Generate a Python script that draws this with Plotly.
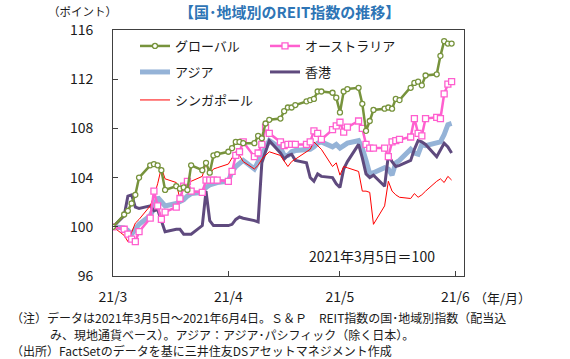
import pandas as pd
import plotly.graph_objects as go

# ---- data (weekdays 2021-03-05 .. 2021-06-04) ----
dates = [d.strftime("%Y-%m-%d") for d in pd.bdate_range("2021-03-05", "2021-06-04")]

global_vals = [100.0, 101.0, 101.3, 101.9, 102.6, 104.0,
               105.0, 105.1, 105.0, 104.6, 103.0,
               103.3, 103.1, 103.2, 103.0, 105.0,
               104.6, 105.2, 104.4, 105.8, 105.9,
               106.1, 106.4, 106.9, 106.9, 106.8,
               106.8, 107.4, 107.2, 108.4, 108.7,
               108.8, 109.4, 109.7, 109.7, 109.9,
               110.2, 110.3, 110.4, 111.0, 111.0,
               110.9, 110.5, 109.3, 111.0, 111.2,
               111.3, 110.0, 107.8, 108.6, 109.5,
               109.6, 109.7, 109.6, 110.4, 110.3,
               111.3, 111.7, 111.8, 111.5, 112.3,
               112.4, 113.9, 115.1, 114.9, 114.9]

australia_vals = [100.0, 99.8, 99.4, 99.0, 98.8, 99.6,
                  100.7, 102.9, 101.7, 100.6, 101.2,
                  101.6, 102.3, 103.3, 103.7, 102.9,
                  102.8, 103.8, 103.8, 103.8, 103.8,
                  103.7, 104.5, 105.8, 106.1, 106.9,
                  105.7, 106.0, 106.7, 108.1, 107.6,
                  106.9, 106.6, 106.7, 106.7, 106.7,
                  106.7, 106.9, 107.8, 107.6, 107.1,
                  107.9, 108.2, 108.5, 107.7, 108.1,
                  108.6, 108.0, 106.7, 106.4, 106.4,
                  106.4, 105.7, 106.9, 107.0, 107.1,
                  107.3, 108.8, 107.6, 107.4, 108.8,
                  108.9, 108.8, 110.8, 111.6, 111.8]

asia_vals = [100.0, 99.9, 99.7, 99.4, 99.8, 100.2,
             100.9, 101.5, 102.4, 102.0, 101.7,
             101.9, 102.0, 102.2, 102.5, 102.7,
             102.8, 103.2, 103.4, 103.5, 103.6,
             103.7, 104.5, 104.9, 105.2, 105.4,
             104.7, 105.3, 106.0, 106.6, 107.0,
             106.4, 105.8, 105.8, 106.1, 106.2,
             106.2, 106.3, 106.5, 106.8, 106.9,
             106.5, 106.7, 106.4, 106.6, 106.8,
             107.0, 106.4, 105.4, 104.3, 104.4,
             104.8, 104.7, 104.2, 105.2, 105.4,
             106.3, 106.0, 105.9, 106.7, 106.6,
             106.8, 106.9, 107.5, 108.3, 108.4]

hongkong_vals = [100.0, 100.9, 102.5, 102.6, 101.6, 101.5,
                 101.7, 101.3, 101.4, 100.5, 99.6,
                 99.8, 99.8, 99.4, 99.4, 99.4,
                 100.1, 102.9, 100.5, 100.1, 100.1,
                 100.1, 100.2, 100.6, 100.8, 100.7,
                 100.5, 100.4, 105.2, 106.2, 107.0,
                 106.0, 105.5, 105.8, 105.9, 105.4,
                 105.2, 104.0, 103.7, 104.3, 104.1,
                 104.0, 103.5, 103.2, 104.7, 105.3,
                 106.7, 105.6, 104.3, 104.0, 104.2,
                 103.3, 105.8, 105.3, 104.9, 105.0,
                 105.4, 106.3, 107.0, 106.9, 106.7,
                 105.7, 106.2, 106.8, 106.5, 106.0]

singapore_vals = [100.0, 99.3, 98.8, 99.5, 100.3, 100.6,
                  101.7, 102.5, 103.5, 104.8, 103.9,
                  103.6, 102.2, 103.1, 103.4, 103.7,
                  104.1, 105.2, 104.3, 104.7, 104.8,
                  105.1, 105.6, 106.1, 105.8, 105.3,
                  104.7, 105.0, 105.5, 105.8, 106.1,
                  105.8, 105.3, 104.9, 105.3, 105.5,
                  106.1, 106.3, 106.9, 106.6, 106.3,
                  104.9, 105.2, 104.2, 104.9, 104.8,
                  104.5, 102.9, 102.9, 102.8, 100.2,
                  101.7, 103.7, 102.9, 102.6, 102.4,
                  102.3, 102.7, 102.4, 102.6, 102.9,
                  103.7, 103.9, 103.6, 104.1, 103.8]

series_names = ["グローバル", "オーストラリア", "アジア", "香港", "シンガポール"]
tick_dates = ["2021-03-05", "2021-04-05", "2021-05-05", "2021-06-05"]
tick_labels = ["21/3", "21/4", "21/5", "21/6"]

FONT = "Noto Sans CJK JP, Noto Sans, sans-serif"
TXT = "#1a1a1a"
AX = "#404040"

fig = go.Figure()

# drawing order: asia, hong kong, singapore, australia, global
fig.add_trace(go.Scatter(x=dates, y=asia_vals, name=series_names[2], mode="lines",
                         line=dict(color="#95B3D7", width=5), legend="legend3"))
fig.add_trace(go.Scatter(x=dates, y=hongkong_vals, name=series_names[3], mode="lines",
                         line=dict(color="#5F4A7E", width=3), legend="legend4"))
fig.add_trace(go.Scatter(x=dates, y=singapore_vals, name=series_names[4], mode="lines",
                         line=dict(color="#FF0000", width=1), legend="legend5"))
fig.add_trace(go.Scatter(x=dates, y=australia_vals, name=series_names[1], mode="lines+markers",
                         line=dict(color="#FF5FCF", width=2.5),
                         marker=dict(symbol="square", size=6, color="white",
                                     line=dict(color="#FF5FCF", width=1.3)),
                         legend="legend2"))
fig.add_trace(go.Scatter(x=dates, y=global_vals, name=series_names[0], mode="lines+markers",
                         line=dict(color="#77933C", width=2.5),
                         marker=dict(symbol="circle", size=5, color="white",
                                     line=dict(color="#77933C", width=1.3)),
                         legend="legend"))

L, R, T, B = 113, 106, 30, 83
W, H = 570, 359
pw, ph = W - L - R, H - T - B


def px(x):
    return (x - L) / pw


def py(y):
    return 1 - (y - T) / ph


def leg(x, y):
    return dict(x=px(x), y=py(y), xanchor="left", yanchor="middle",
                bgcolor="rgba(0,0,0,0)", borderwidth=0,
                font=dict(family=FONT, size=13, color=TXT))


fig.update_layout(
    width=W, height=H,
    margin=dict(l=L, r=R, t=T, b=B),
    paper_bgcolor="white", plot_bgcolor="white",
    font=dict(family=FONT, color=TXT),
    showlegend=True,
    legend=leg(135, 46),
    legend2=leg(265, 46),
    legend3=leg(135, 72),
    legend4=leg(265, 72),
    legend5=leg(135, 100),
)

fig.update_xaxes(type="date", range=["2021-03-05", "2021-06-07 08:00"],
                 tickvals=tick_dates, ticktext=tick_labels,
                 ticks="inside", ticklen=5, tickcolor=AX, tickwidth=1,
                 showline=True, linecolor=AX, linewidth=1, mirror=True,
                 showgrid=False, zeroline=False,
                 tickfont=dict(family=FONT, size=14, color=TXT),
                 ticklabelstandoff=8)
fig.update_yaxes(range=[96, 116], dtick=4, tick0=96,
                 ticks="inside", ticklen=5, tickcolor=AX, tickwidth=1,
                 showline=True, linecolor=AX, linewidth=1, mirror=True,
                 showgrid=False, zeroline=False,
                 tickfont=dict(family=FONT, size=14, color=TXT),
                 ticklabelstandoff=16)

ann = [
    dict(text="<b>【国･地域別のREIT指数の推移】</b>", x=px(289), y=py(12),
         font=dict(size=15, color="#2E75B6")),
    dict(text="（ポイント）", x=px(82), y=py(11), font=dict(size=11.5, color=TXT)),
    dict(text="2021年3月5日＝100", x=px(372), y=py(256), font=dict(size=14, color=TXT)),
    dict(text="（年/月）", x=px(502), y=py(297), font=dict(size=13, color=TXT)),
    dict(text="（注）データは2021年3月5日～2021年6月4日。Ｓ＆Ｐ　REIT指数の国･地域別指数（配当込",
         x=px(10), y=py(317), xanchor="left", font=dict(size=12, color=TXT)),
    dict(text="み、現地通貨ベース）。アジア：アジア･パシフィック（除く日本）。",
         x=px(49), y=py(334), xanchor="left", font=dict(size=12, color=TXT)),
    dict(text="（出所）FactSetのデータを基に三井住友DSアセットマネジメント作成",
         x=px(10), y=py(350), xanchor="left", font=dict(size=12, color=TXT)),
]
for a in ann:
    a.setdefault("xanchor", "center")
    fig.add_annotation(xref="paper", yref="paper", showarrow=False, yanchor="middle",
                       borderpad=0, font_family=FONT, **a)

fig.write_html("out.html",
               config={"displayModeBar": False},
               post_script="document.body.style.margin='0';document.body.style.padding='0';")
